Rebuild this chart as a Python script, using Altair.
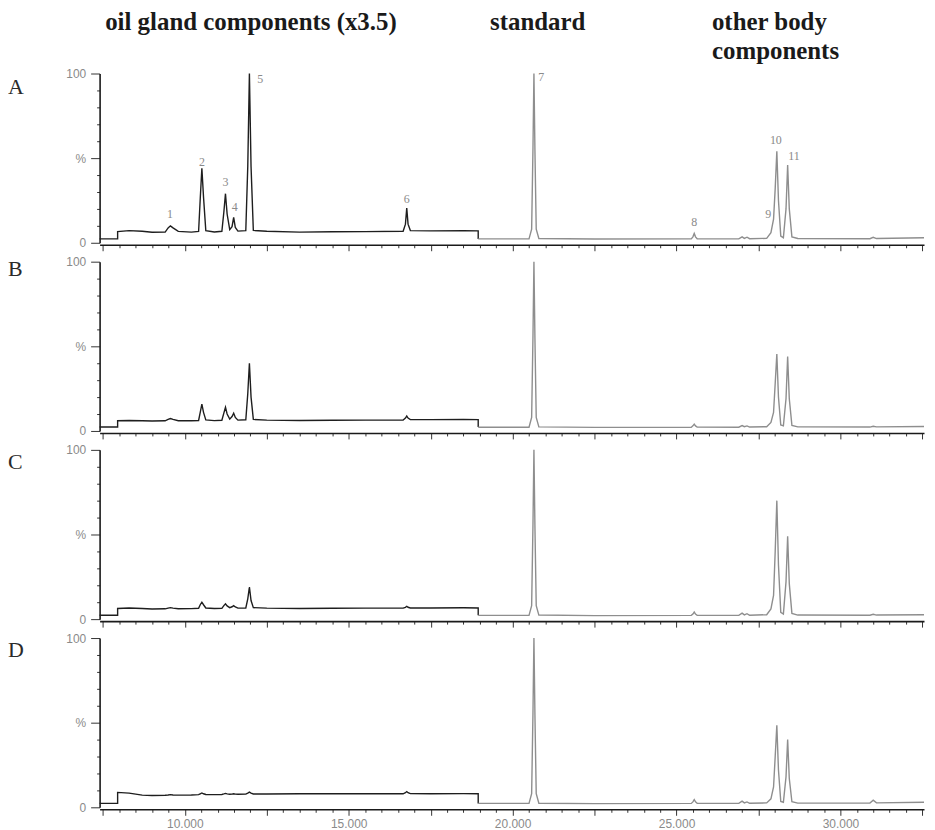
import altair as alt
import pandas as pd

# ---------------- data ----------------
ROWS = ["A", "B", "C", "D"]

# retention times (min) of the oil-gland segment (dark trace)
OIL_T = [7.4, 7.95, 7.95, 8.3, 8.7, 9.0, 9.4, 9.49, 9.56, 9.64, 9.8, 10.2, 10.42,
         10.47, 10.52, 10.57, 10.64, 10.9, 11.13, 11.19, 11.24, 11.29, 11.37, 11.44,
         11.49, 11.54, 11.62, 11.86, 11.92, 11.97, 12.02, 12.09, 12.5, 13.5, 14.5,
         15.5, 16.66, 16.73, 16.77, 16.81, 16.88, 17.5, 18.5, 18.95, 18.95]

A_OIL_V = [2.3, 2.3, 6.6, 7.2, 6.8, 6.2, 6.3, 8.8, 10.0, 8.8, 6.7, 6.3, 6.7, 26, 44, 27,
           7.2, 6.4, 6.8, 18, 29, 17, 7.8, 9.5, 15, 9.0, 6.9, 7.2, 45, 100, 45, 7.3, 6.8,
           6.3, 6.5, 6.6, 6.8, 11, 20.5, 11, 7.2, 7.0, 7.2, 7.0, 2.3]
B_OIL_V = [2.3, 2.3, 6.0, 6.2, 6.0, 5.9, 6.0, 6.8, 7.3, 6.8, 6.0, 6.0, 6.2, 11, 15.8, 11,
           6.5, 6.1, 6.3, 10.5, 14, 10, 7.0, 8.5, 10.5, 8.0, 6.4, 6.6, 22, 40, 20, 6.8,
           6.4, 6.2, 6.3, 6.4, 6.5, 7.6, 8.8, 7.6, 6.7, 6.7, 6.8, 6.7, 2.3]
C_OIL_V = [2.3, 2.3, 6.3, 6.6, 6.3, 6.0, 6.1, 6.5, 6.8, 6.5, 6.1, 6.2, 6.4, 8.5, 10, 8.5,
           6.6, 6.3, 6.4, 8.0, 9.0, 7.8, 6.8, 7.3, 8.0, 7.2, 6.5, 6.6, 12, 19, 11, 6.8,
           6.5, 6.3, 6.4, 6.5, 6.5, 7.0, 7.6, 7.0, 6.6, 6.6, 6.7, 6.6, 2.3]
D_OIL_V = [2.3, 2.3, 8.8, 8.4, 7.2, 7.0, 7.1, 7.3, 7.5, 7.3, 7.2, 7.3, 7.5, 8.0, 8.5, 8.0,
           7.6, 7.5, 7.6, 7.9, 8.2, 7.9, 7.7, 7.8, 8.0, 7.8, 7.7, 7.8, 8.4, 9.0, 8.4, 7.9,
           7.9, 8.0, 8.0, 8.0, 8.0, 8.6, 9.3, 8.6, 8.1, 8.0, 8.1, 8.0, 2.3]

# retention times (min) of the standard / body segment (grey trace)
BODY_T = [18.95, 20.5, 20.58, 20.62, 20.65, 20.68, 20.72, 20.8, 22.5, 25.45, 25.5, 25.54,
          25.58, 25.63, 26.9, 27.0, 27.07, 27.15, 27.23, 27.75, 27.88, 27.96, 28.01,
          28.06, 28.11, 28.18, 28.26, 28.34, 28.39, 28.44, 28.52, 28.7, 30.9, 31.0,
          31.1, 32.55]

A_BODY_V = [2.3, 2.3, 8, 55, 100, 55, 8, 2.5, 2.2, 2.3, 3.5, 5.5, 3.5, 2.4, 2.3, 3.5, 2.6,
            3.3, 2.4, 2.6, 6, 14, 32, 54, 25, 4, 3, 20, 46, 20, 3.5, 2.5, 2.4, 3.2, 2.5, 3.0]
B_BODY_V = [2.2, 2.2, 8, 55, 100, 55, 8, 2.4, 2.1, 2.2, 3.0, 4.0, 3.0, 2.3, 2.2, 3.2, 2.5,
            3.0, 2.3, 2.5, 5, 11, 28, 45.5, 20, 3.5, 3, 19, 44, 19, 3.3, 2.4, 2.3, 2.8, 2.4, 2.6]
C_BODY_V = [2.2, 2.2, 8, 55, 100, 55, 8, 2.4, 2.1, 2.2, 3.0, 4.2, 3.0, 2.3, 2.2, 3.5, 2.5,
            3.2, 2.3, 2.6, 6, 14, 40, 70, 32, 4, 3, 22, 49, 21, 3.4, 2.4, 2.3, 2.9, 2.4, 2.6]
D_BODY_V = [2.3, 2.3, 8, 55, 100, 55, 8, 2.4, 2.2, 2.3, 3.2, 4.5, 3.2, 2.4, 2.3, 3.6, 2.6,
            3.2, 2.4, 2.6, 5, 12, 30, 48.5, 22, 3.5, 3, 18, 40, 17, 3.3, 2.5, 2.5, 4.2, 2.6, 3.0]

# peak annotations (panel A)
PEAK_NUM = ["1", "2", "3", "4", "5", "6", "7", "8", "9", "10", "11"]
PEAK_T = [9.55, 10.52, 11.24, 11.52, 12.3, 16.77, 20.87, 25.54, 27.8, 28.03, 28.58]
PEAK_V = [17, 48, 36, 21, 97, 26, 98, 12, 17, 61, 51]

TITLE_OIL = "oil gland components (x3.5)"
TITLE_STD = "standard"
TITLE_BODY = "other body\ncomponents"

X_TICKS = [7.5 + 0.5 * k for k in range(51)]
Y_TICKS = [0, 10, 20, 30, 40, 50, 60, 70, 80, 90, 100]

OIL_V = {"A": A_OIL_V, "B": B_OIL_V, "C": C_OIL_V, "D": D_OIL_V}
BODY_V = {"A": A_BODY_V, "B": B_BODY_V, "C": C_BODY_V, "D": D_BODY_V}
ROW_LABEL_Y = {"A": 14, "B": 7, "C": 12, "D": 12}

# ---------------- chart ----------------
W, H = 828, 170
X_DOMAIN = [7.4, 32.55]
SERIF = "Liberation Serif"
SANS = "Liberation Sans"


def panel(row, last):
    oil = pd.DataFrame({"t": OIL_T, "v": OIL_V[row], "i": list(range(len(OIL_T)))})
    body = pd.DataFrame({"t": BODY_T, "v": BODY_V[row], "i": list(range(len(BODY_T)))})

    x_axis = alt.Axis(
        values=X_TICKS,
        labelExpr="datum.value % 5 == 0 ? format(datum.value, '.3f') : ''",
        labels=last,
        tickSize={"condition": {"test": "datum.value % 2.5 == 0", "value": 6}, "value": 3},
        grid=False, domainColor="#1a1a1a", domainWidth=1.6, tickColor="#333333",
        tickWidth=1, labelColor="#8a8a8a", labelFont=SANS, labelFontSize=12,
        labelOverlap=False, labelFlush=False, labelPadding=3, offset=2, title=None,
    )
    y_axis = alt.Axis(
        values=Y_TICKS,
        labelExpr="datum.value == 100 ? '100' : datum.value == 50 ? '%' : datum.value == 0 ? '0' : ''",
        tickSize={"condition": {"test": "datum.value % 50 == 0", "value": 9}, "value": 3},
        grid=False, domainColor="#1a1a1a", domainWidth=1.6, tickColor="#333333",
        tickWidth=1, labelColor="#8a8a8a", labelFont=SANS, labelFontSize=12,
        labelOverlap=False, labelPadding=5, title=None,
    )
    x = alt.X("t:Q", scale=alt.Scale(domain=X_DOMAIN, nice=False, zero=False), axis=x_axis)
    y = alt.Y("v:Q", scale=alt.Scale(domain=[0, 100], nice=False), axis=y_axis)

    l_oil = alt.Chart(oil).mark_line(color="#1e1e1e", strokeWidth=1.4).encode(
        x=x, y=y, order="i:Q")
    l_body = alt.Chart(body).mark_line(color="#8e8e8e", strokeWidth=1.4).encode(
        x=x, y=y, order="i:Q")
    lab = alt.Chart(pd.DataFrame({"r": [row]})).mark_text(
        font=SERIF, fontSize=22, align="left", baseline="middle", color="#2a2a2a"
    ).encode(x=alt.value(-92), y=alt.value(ROW_LABEL_Y[row]), text="r:N")

    layers = [l_oil, l_body, lab]
    if row == "A":
        peaks = pd.DataFrame({"n": PEAK_NUM, "t": PEAK_T, "v": PEAK_V})
        layers.append(alt.Chart(peaks).mark_text(
            font=SERIF, fontSize=12, color="#8a8a8a", align="center", baseline="middle"
        ).encode(x=x, y=y, text="n:N"))
        for txt, xv, al in [(TITLE_OIL, 152, "center"), (TITLE_STD, 440, "center"),
                            (TITLE_BODY, 615, "left")]:
            layers.append(alt.Chart(pd.DataFrame({"s": [txt]})).mark_text(
                font=SERIF, fontSize=25, fontWeight="bold", align=al,
                baseline="alphabetic", color="#1a1a1a", lineBreak="\n", lineHeight=29
            ).encode(x=alt.value(xv), y=alt.value(-44), text="s:N"))
    return alt.layer(*layers).properties(width=W, height=H)


chart = alt.vconcat(
    *[panel(r, r == "D") for r in ROWS], spacing=19, bounds="flush"
).configure_view(stroke=None).properties(padding=0, background="white")

chart.save("out.html", embed_options={"renderer": "svg", "actions": False})
